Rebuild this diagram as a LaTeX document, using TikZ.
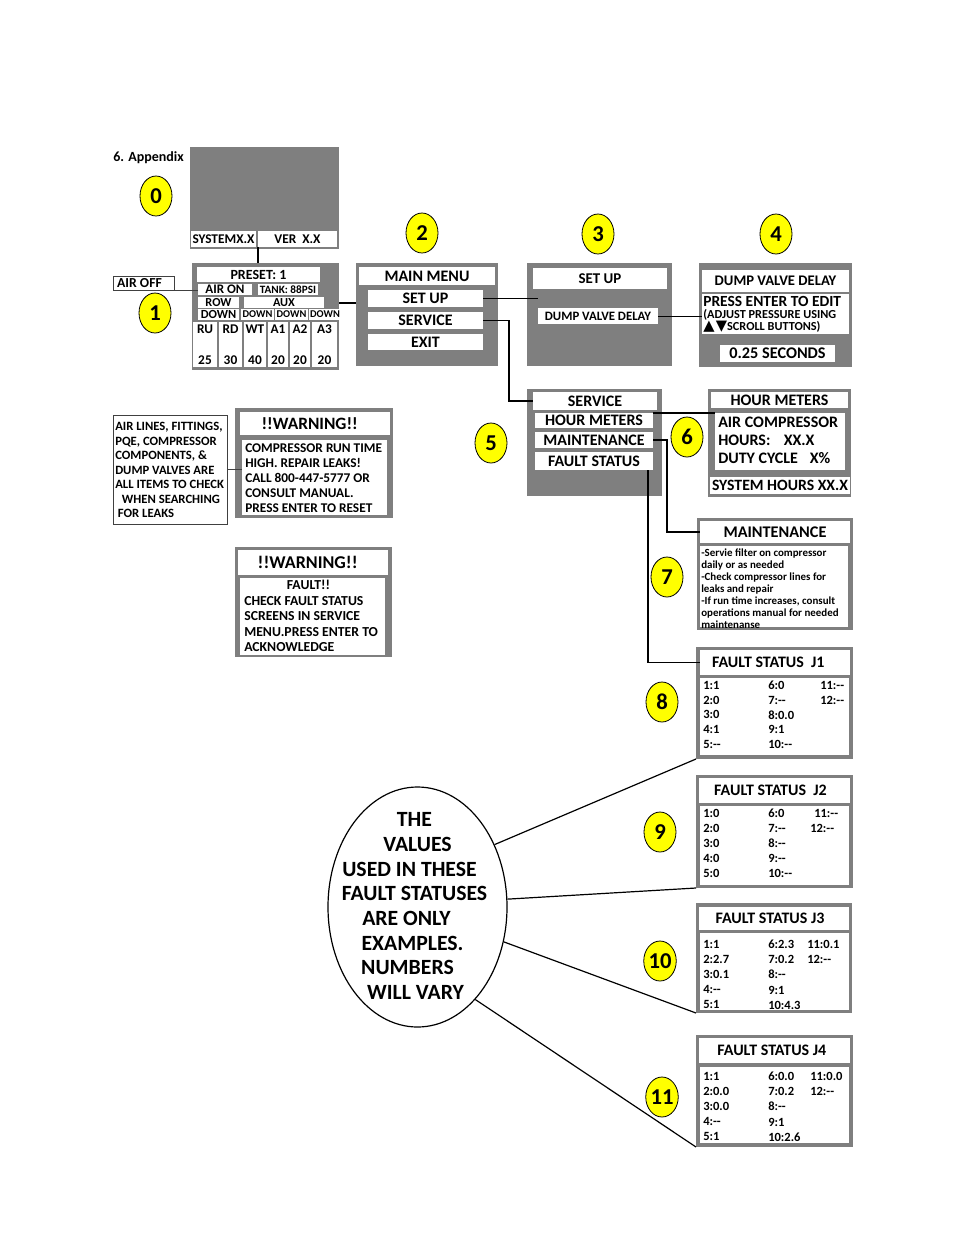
\documentclass[tikz,border=0pt]{standalone}
\usepackage{fontspec}
\setmainfont{Carlito}
\newfontfamily\dejavu{DejaVu Sans}
\usetikzlibrary{shapes.geometric,calc}
\definecolor{scr}{RGB}{127,127,127}
\definecolor{bdg}{RGB}{255,255,0}
\newcommand\fnt[2]{\fontsize{#1}{#2}\selectfont\bfseries}
\newcommand\tightls{\lineskiplimit-20pt\relax}
\newcommand\RB[7][]{\node[rb,#1,minimum width={(#5-#3)*0.75pt},minimum height={(#6-#4)*0.75pt}] (#2) at ({(#3+#5)/2},{(#4+#6)/2}) {#7};}
\newcommand\sh[1]{\rule{#1}{0pt}}
\tikzset{
  rb/.style={rectangle, inner sep=0pt, outer sep=0pt, draw=none},
  scrn/.style={rb, fill=scr},
  wb/.style={rb, fill=white},
  badge/.style={ellipse, draw=black, line width=0.6pt, fill=bdg, inner sep=0pt,
    minimum width=24pt, minimum height=30pt, font=\fnt{17}{20}},
  conn/.style={draw, line width=1.1pt},
  conn2/.style={draw, line width=0.9pt},
  thinl/.style={draw, line width=0.6pt, black!75},
  txt/.style={inner sep=0pt, anchor=base west},
  mtxt/.style={inner sep=0pt, anchor=north west, align=left},
}
\begin{document}
\begin{tikzpicture}[x=0.75pt,y=-0.75pt]
\path[use as bounding box, fill=white] (0,0) rectangle (954,1235);

\node[txt, font=\fnt{10.5}{12}] (appx) at (113,161) {6. Appendix};

% screen 0
\RB[scrn]{s0}{190}{147}{339}{249}{}
\RB[wb,font=\fnt{10}{12}]{s0sys}{191}{231}{256}{247}{SYSTEMX.X}
\RB[wb,font=\fnt{10}{12}]{s0ver}{258}{231}{337}{247}{VER\ \ X.X}

% screen 1
\RB[scrn]{s1}{192}{263}{339}{370}{}
\RB[wb,font=\fnt{10.5}{12}]{preset}{197}{267}{320}{282}{PRESET: 1}
\RB[wb,font=\fnt{9.8}{12}]{airon}{198}{284}{252}{295}{AIR ON}
\RB[wb,font=\fnt{8.4}{10}]{tank}{258}{284}{318}{295}{TANK: 88PSI}
\RB[wb,font=\fnt{9.2}{11}]{row}{198}{297}{239}{308}{ROW}
\RB[wb,font=\fnt{9.2}{11}]{aux}{244}{297}{324}{308}{AUX}
\RB[wb,font=\fnt{9.3}{11}]{dn1}{198}{309}{239}{320}{DOWN}
\RB[wb,font=\fnt{7.8}{9}]{dn2}{241}{309}{274}{320}{DOWN}
\RB[wb,font=\fnt{7.8}{9}]{dn3}{275}{309}{308}{320}{DOWN}
\RB[wb,font=\fnt{7.8}{9}]{dn4}{309}{309}{341}{320}{DOWN}
\RB[wb,font=\fnt{10}{12},align=center]{cru}{193}{322}{217}{367}{RU\\[11pt]25}
\RB[wb,font=\fnt{10}{12},align=center]{crd}{219}{322}{242}{367}{RD\\[11pt]30}
\RB[wb,font=\fnt{10}{12},align=center]{cwt}{244}{322}{266}{367}{WT\\[11pt]40}
\RB[wb,font=\fnt{10}{12},align=center]{ca1}{268}{322}{288}{367}{A1\\[11pt]20}
\RB[wb,font=\fnt{10}{12},align=center]{ca2}{290}{322}{310}{367}{A2\\[11pt]20}
\RB[wb,font=\fnt{10}{12},align=center]{ca3}{312}{322}{337}{367}{A3\\[11pt]20}

\RB[wb,draw=black!75,line width=0.5pt,font=\fnt{10.3}{12}]{airoff}{113}{276}{174}{290}{AIR OFF\hspace*{6pt}}
\draw[thinl] (airoff.south) -- (airoff.south -| airon.west);

% badges
\node[badge] (b0) at (156,196) {0};
\node[badge] (b1) at (155,313) {1};
\node[badge] (b2) at (422,233) {2};
\node[badge] (b3) at (598,234) {3};
\node[badge] (b4) at (776,234) {4};
\node[badge] (b5) at (491,443) {5};
\node[badge] (b6) at (687,437) {6};
\node[badge] (b7) at (667,577) {7};
\node[badge] (b8) at (662,702) {8};
\node[badge] (b9) at (660,832) {9};
\node[badge] (b10) at (660,961) {10};
\node[badge] (b11) at (662,1097) {11};

% main menu
\RB[scrn]{mm}{356}{263}{498}{366}{}
\RB[wb,font=\fnt{12}{14}]{mmtitle}{359}{267}{495}{285}{MAIN MENU}
\RB[wb,font=\fnt{12}{14}]{mmsetup}{368}{290}{483}{307}{SET UP}
\RB[wb,font=\fnt{12}{14}]{mmservice}{368}{312}{483}{329}{SERVICE}
\RB[wb,font=\fnt{12}{14}]{mmexit}{368}{334}{483}{350}{EXIT}

\draw[conn] (s0ver.south west) -- (s0ver.south west |- s1.north);
\draw[conn] ([yshift=10pt]s1.east) -- ([yshift=10pt]s1.east -| mm.west);

% set up
\RB[scrn]{su}{527}{263}{672}{366}{}
\RB[wb,font=\fnt{11.2}{13}]{sutitle}{533}{268}{667}{289}{SET UP}
\RB[wb,font=\fnt{9.6}{11}]{sudvd}{538}{308}{658}{324}{DUMP VALVE DELAY}
\draw[conn] (mmsetup.east) -- (mmsetup.east -| sudvd.west);

% dump valve delay
\RB[scrn]{dv}{699}{263}{852}{367}{}
\RB[wb,font=\fnt{11}{13}]{dvtitle}{702}{270}{849}{292}{DUMP VALVE DELAY}
\RB[wb]{dvbody}{702}{294}{849}{334}{}
\node[mtxt,font=\fnt{9.2}{8.9}\tightls] (dvt) at (703,296) {{\fontsize{11.6}{8.9}\selectfont PRESS ENTER TO EDIT}\\(ADJUST PRESSURE USING\\\smash{\dejavu\fontsize{11}{11}\selectfont ▲\hspace{1pt}▼}SCROLL BUTTONS)};
\RB[wb,font=\fnt{12.2}{14}]{dvval}{720}{345}{835}{362}{0.25 SECONDS}
\draw[line width=0.6pt] (sudvd.east) -- (sudvd.east -| dvbody.west);

% service
\RB[scrn]{sv}{527}{389}{662}{496}{}
\RB[wb,font=\fnt{12}{14}]{svtitle}{533}{392}{657}{410}{SERVICE}
\RB[wb,font=\fnt{12}{14}]{svhm}{535}{413}{653}{428}{HOUR METERS}
\RB[wb,font=\fnt{12}{14}]{svmt}{535}{432}{653}{448}{MAINTENANCE}
\RB[wb,font=\fnt{12}{14}]{svfs}{535}{452}{653}{470}{FAULT STATUS}
\draw[conn] (mmservice.east) -- ++(26,0) |- (svtitle.west);

% hour meters
\RB[scrn]{hm}{708}{389}{851}{497}{}
\RB[wb,font=\fnt{12}{14}]{hmtitle}{711}{392}{848}{408}{HOUR METERS}
\RB[wb]{hmbody}{715}{413}{845}{470}{}
\node[mtxt,font=\fnt{12}{13.5}] (hmt) at (718,417) {AIR COMPRESSOR\\HOURS:\hspace{10pt}XX.X\\DUTY CYCLE\hspace{9pt}X\%};
\RB[wb,font=\fnt{11.8}{13}]{hmsys}{710}{477}{850}{494}{SYSTEM HOURS XX.X}
\draw[conn] (svhm.north east) -- (hmbody.north west);

% maintenance
\RB[scrn]{mt}{697}{518}{853}{630}{}
\RB[wb,font=\fnt{12.2}{14}]{mttitle}{700}{521}{850}{543}{MAINTENANCE}
\RB[wb]{mtbody}{700}{546}{848}{627}{}
\begin{scope}
\clip (mtbody.north west) rectangle (mtbody.south east);
\node[mtxt,font=\fnt{8.2}{9}] (mtt) at (701,549) {-Servie filter on compressor\\daily or as needed\\-Check compressor lines for\\leaks and repair\\-If run time increases, consult\\operations manual for needed\\maintenanse};
\end{scope}
\draw[conn] (svmt.east) -- ++(14,0) |- (mttitle.west);

% fault J1
\RB[scrn]{f1}{696}{647}{853}{759}{}
\RB[wb,font=\fnt{12}{14}]{f1title}{700}{650}{850}{675}{FAULT STATUS\ \ J1\hspace*{10pt}}
\RB[wb]{f1body}{700}{678}{849}{755}{}
\node[mtxt,font=\fnt{9.4}{11}] (f1a) at (703,681) {1:1\\2:0\\3:0\\4:1\\5:-{}-};
\node[mtxt,font=\fnt{9.4}{11}] (f1b) at (768,681) {6:0\\7:-{}-\\8:0.0\\9:1\\10:-{}-};
\node[mtxt,font=\fnt{9.4}{11}] (f1c) at (820,681) {11:-{}-\\12:-{}-};
\draw[conn] ([xshift=-3.75pt]svfs.south east) |- (f1title.west);

% fault J2
\RB[scrn]{f2}{696}{775}{853}{888}{}
\RB[wb,font=\fnt{12}{14}]{f2title}{699}{778}{850}{803}{FAULT STATUS\ \ J2\hspace*{6pt}}
\RB[wb]{f2body}{700}{806}{849}{885}{}
\node[mtxt,font=\fnt{9.4}{11.2}] (f2a) at (703,809) {1:0\\2:0\\3:0\\4:0\\5:0};
\node[mtxt,font=\fnt{9.4}{11.2}] (f2b) at (768,809) {6:0\\7:-{}-\\8:-{}-\\9:-{}-\\10:-{}-};
\node[mtxt,font=\fnt{9.4}{11.2}] (f2c) at (810,809) {\hspace*{3pt}11:-{}-\\12:-{}-};

% fault J3
\RB[scrn]{f3}{696}{903}{852}{1013}{}
\RB[wb,font=\fnt{12}{14}]{f3title}{699}{907}{849}{930}{FAULT STATUS J3\hspace*{6pt}}
\RB[wb]{f3body}{700}{933}{849}{1010}{}
\node[mtxt,font=\fnt{9.4}{11.3}] (f3a) at (703,940) {1:1\\2:2.7\\3:0.1\\4:-{}-\\5:1};
\node[mtxt,font=\fnt{9.4}{11.3}] (f3b) at (768,940) {6:2.3\\7:0.2\\8:-{}-\\9:1\\10:4.3};
\node[mtxt,font=\fnt{9.4}{11.3}] (f3c) at (807,940) {11:0.1\\12:-{}-};

% fault J4
\RB[scrn]{f4}{696}{1035}{853}{1147}{}
\RB[wb,font=\fnt{12}{14}]{f4title}{699}{1038}{850}{1063}{FAULT STATUS J4\hspace*{4pt}}
\RB[wb]{f4body}{700}{1067}{849}{1143}{}
\node[mtxt,font=\fnt{9.4}{11.3}] (f4a) at (703,1072) {1:1\\2:0.0\\3:0.0\\4:-{}-\\5:1};
\node[mtxt,font=\fnt{9.4}{11.3}] (f4b) at (768,1072) {6:0.0\\7:0.2\\8:-{}-\\9:1\\10:2.6};
\node[mtxt,font=\fnt{9.4}{11.3}] (f4c) at (810,1072) {11:0.0\\12:-{}-};

% ellipse note
\node[ellipse, draw, line width=0.9pt, fill=white, minimum width={179*0.75pt}, minimum height={240*0.75pt}, inner sep=0pt] (el) at (417.5,907) {};
\node[font=\fnt{16.3}{18.5}, align=center, inner sep=0pt] (elt) at (417.5,906) {THE\sh{4.5pt}\\VALUES\\USED IN THESE\sh{12pt}\\FAULT STATUSES\sh{4.5pt}\\ARE ONLY\sh{16.5pt}\\EXAMPLES.\sh{7.5pt}\\NUMBERS\sh{15pt}\\WILL VARY\sh{3pt}};
\draw[conn2] (el.39) -- (f1.south west);
\draw[conn2] (el.5) -- (f2.south west);
\draw[conn2] (el.-22) -- (f3.south west);
\draw[conn2] (el.-58) -- (f4.south west);

% warnings
\RB[wb,draw=black!75,line width=0.6pt]{note}{113}{415}{227}{524}{}
\node[mtxt,font=\fnt{9.5}{10.9}] (notet) at (115,422) {AIR LINES, FITTINGS,\\PQE, COMPRESSOR\\COMPONENTS, \&\\DUMP VALVES ARE\\ALL ITEMS TO CHECK\\\hspace*{5pt}WHEN SEARCHING\\\hspace*{2pt}FOR LEAKS};
\RB[scrn]{w1}{235}{408}{393}{518}{}
\RB[wb,font=\fnt{13}{15}]{w1title}{240}{412}{390}{435}{!!WARNING!!\hspace*{8pt}}
\RB[wb]{w1body}{242}{440}{387}{515}{}
\node[mtxt,font=\fnt{10}{11.25}] (w1t) at (245,443) {COMPRESSOR RUN TIME\\HIGH. REPAIR LEAKS!\\CALL 800-447-5777 OR\\CONSULT MANUAL.\\PRESS ENTER TO RESET};
\draw[thinl] (note.east) -- (note.east -| w1body.west);

\RB[scrn]{w2}{235}{547}{392}{657}{}
\RB[wb,font=\fnt{13.5}{15}]{w2title}{238}{550}{388}{575}{!!WARNING!!\hspace*{8pt}}
\RB[wb]{w2body}{240}{578}{385}{655}{}
\node[mtxt,font=\fnt{10.3}{11.6}] (w2t) at (244,580) {\hspace*{32pt}FAULT!!\\CHECK FAULT STATUS\\SCREENS IN SERVICE\\MENU.PRESS ENTER TO\\ACKNOWLEDGE};
\end{tikzpicture}
\end{document}
